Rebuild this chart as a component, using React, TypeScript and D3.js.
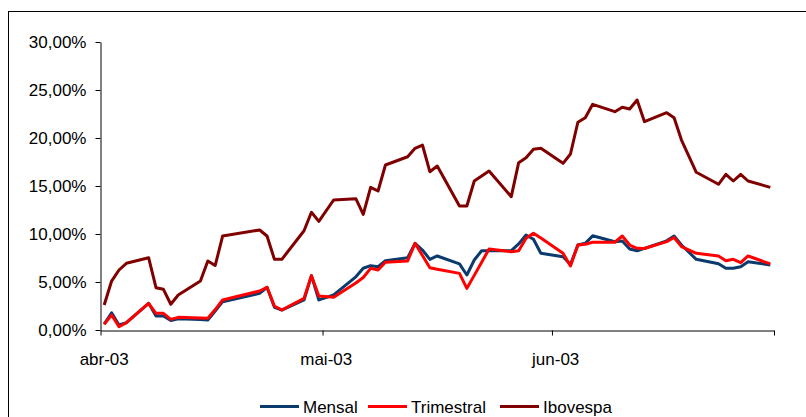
import { useEffect, useRef } from 'react';
import * as d3 from 'd3';

// trading days, apr-jun 2003
const dates = [
  "2003-04-01", "2003-04-02", "2003-04-03", "2003-04-04", "2003-04-07", "2003-04-08", "2003-04-09", "2003-04-10",
  "2003-04-11", "2003-04-14", "2003-04-15", "2003-04-16", "2003-04-17", "2003-04-22", "2003-04-23", "2003-04-24",
  "2003-04-25", "2003-04-28", "2003-04-29", "2003-04-30",
  "2003-05-02", "2003-05-05", "2003-05-06", "2003-05-07", "2003-05-08", "2003-05-09", "2003-05-12", "2003-05-13",
  "2003-05-14", "2003-05-15", "2003-05-16", "2003-05-19", "2003-05-20", "2003-05-21", "2003-05-22", "2003-05-23",
  "2003-05-26", "2003-05-27", "2003-05-28", "2003-05-29", "2003-05-30",
  "2003-06-02", "2003-06-03", "2003-06-04", "2003-06-05", "2003-06-06", "2003-06-09", "2003-06-10", "2003-06-11",
  "2003-06-12", "2003-06-13", "2003-06-16", "2003-06-17", "2003-06-18", "2003-06-20", "2003-06-23", "2003-06-24",
  "2003-06-25", "2003-06-26", "2003-06-27", "2003-06-30"
];

// values in %
const mensal = [
  0.63, 1.80, 0.52, 0.76, 2.78, 1.46, 1.46, 0.99, 1.18, 1.09, 1.04, 1.98, 2.95, 3.82, 4.45, 2.36, 2.08, 3.13, 5.66, 3.13,
  3.65, 5.54, 6.43, 6.70, 6.59, 7.22, 7.53, 9.03, 8.33, 7.36, 7.71, 6.88, 5.73, 7.29, 8.26, 8.26, 8.26, 8.96, 9.90, 9.45, 7.99,
  7.64, 6.82, 8.85, 9.03, 9.81, 9.20, 9.27, 8.44, 8.25, 8.51, 9.29, 9.79, 8.85, 7.36, 6.90, 6.43, 6.43, 6.59, 7.11, 6.77
];

const trimestral = [
  0.59, 1.56, 0.34, 0.76, 2.78, 1.74, 1.74, 1.11, 1.32, 1.25, 1.22, 2.13, 3.13, 4.06, 4.45, 2.50, 2.08, 3.30, 5.66, 3.54,
  3.41, 4.90, 5.47, 6.42, 6.25, 7.05, 7.19, 9.03, 7.75, 6.49, 6.33, 5.90, 4.34, 5.69, 7.06, 8.44, 8.16, 8.26, 9.55, 10.07, 9.58,
  7.99, 6.67, 8.85, 8.93, 9.14, 9.14, 9.79, 8.85, 8.51, 8.49, 9.21, 9.64, 8.68, 7.99, 7.71, 7.22, 7.36, 7.01, 7.71, 6.88
];

const ibovespa = [
  2.60, 5.10, 6.25, 6.95, 7.53, 4.41, 4.24, 2.68, 3.65, 5.10, 7.19, 6.72, 9.79, 10.42, 9.79, 7.36, 7.36, 10.34, 12.26, 11.32,
  13.54, 13.68, 12.05, 14.86, 14.48, 17.19, 18.05, 18.93, 19.27, 16.49, 17.08, 12.92, 12.92, 15.52, 16.04, 16.56, 13.89, 17.43, 17.95, 18.82, 18.93,
  17.36, 18.33, 21.64, 22.11, 23.51, 22.74, 23.20, 23.02, 23.96, 21.70, 22.64, 22.11, 19.79, 16.43, 15.18, 16.22, 15.52, 16.22, 15.52, 14.86
];

const yTicks = [0, 5, 10, 15, 20, 25, 30];
const monthTicks = ["2003-04-01", "2003-05-01", "2003-06-01", "2003-07-01"];
const monthLabels = ["abr-03", "mai-03", "jun-03"];
const seriesNames = ["Mensal", "Trimestral", "Ibovespa"];
const seriesColours = ["#0b3a6c", "#ff0000", "#800000"];

const App = () => {
  const svgRef = useRef(null);

  useEffect(() => {
    const width = 806;
    const height = 417;
    const font = "'Liberation Sans', Arial, sans-serif";

    const svg = d3.select(svgRef.current);
    svg.selectAll("*").remove();

    const parse = d3.timeParse("%Y-%m-%d");
    const noon = (s) => d3.timeHour.offset(parse(s), 12);

    const xScale = d3
      .scaleTime()
      .domain([parse(monthTicks[0]), parse(monthTicks[monthTicks.length - 1])])
      .range([100.5, 774]);

    const yScale = d3.scaleLinear().domain([0, 30]).range([330, 42]);

    const ptBR = d3.formatLocale({ decimal: ",", thousands: ".", grouping: [3], currency: ["R$", ""] });
    const pct = (v) => ptBR.format(".2f")(v) + "%";

    // outer frame
    svg
      .append("rect")
      .attr("x", 8.5)
      .attr("y", 11.5)
      .attr("width", 900)
      .attr("height", 500)
      .attr("fill", "none")
      .attr("stroke", "#000")
      .attr("stroke-width", 1);

    // y axis
    const yAxis = d3
      .axisLeft(yScale)
      .tickValues(yTicks)
      .tickSize(5)
      .tickSizeOuter(0)
      .tickPadding(9)
      .tickFormat(pct);

    svg
      .append("g")
      .attr("transform", `translate(100.5,0)`)
      .call(yAxis)
      .call((g) => g.selectAll("line, path").attr("stroke", "#000"))
      .call((g) =>
        g
          .selectAll("text")
          .style("font-family", font)
          .style("font-size", "17px")
          .attr("fill", "#000")
      );

    // x axis, ticks at month boundaries
    const xAxis = d3
      .axisBottom(xScale)
      .tickValues(monthTicks.map(parse))
      .tickSize(5)
      .tickSizeOuter(0)
      .tickFormat(() => "");

    svg
      .append("g")
      .attr("transform", `translate(0,330.5)`)
      .call(xAxis)
      .call((g) => g.selectAll("line, path").attr("stroke", "#000"));

    svg
      .append("g")
      .selectAll("text")
      .data(monthLabels)
      .enter()
      .append("text")
      .attr("x", (d, i) => xScale(noon(monthTicks[i])))
      .attr("y", 365)
      .attr("text-anchor", "middle")
      .style("font-family", font)
      .style("font-size", "17px")
      .attr("fill", "#000")
      .text((d) => d);

    // series
    const allSeries = [mensal, trimestral, ibovespa];
    const lineGenerator = d3
      .line()
      .x((d) => xScale(noon(d[0])))
      .y((d) => yScale(d[1]));

    allSeries.forEach((values, i) => {
      svg
        .append("path")
        .attr("fill", "none")
        .attr("stroke", seriesColours[i])
        .attr("stroke-width", 3)
        .attr("stroke-linejoin", "round")
        .attr("d", lineGenerator(dates.map((d, j) => [d, values[j]])));
    });

    // legend
    const legendX = [260, 368, 500];
    const legend = svg
      .append("g")
      .selectAll("g")
      .data(seriesNames)
      .enter()
      .append("g")
      .attr("transform", (d, i) => `translate(${legendX[i]},406.5)`);

    legend
      .append("line")
      .attr("x1", 0)
      .attr("x2", 39)
      .attr("stroke", (d, i) => seriesColours[i])
      .attr("stroke-width", 3);

    legend
      .append("text")
      .attr("x", 43)
      .attr("y", 6)
      .style("font-family", font)
      .style("font-size", "17px")
      .attr("fill", "#000")
      .text((d) => d);
  }, []);

  return (
    <svg
      ref={svgRef}
      width={806}
      height={417}
      style={{ position: "absolute", left: 0, top: 0, background: "#fff" }}
    ></svg>
  );
};

export default App;
